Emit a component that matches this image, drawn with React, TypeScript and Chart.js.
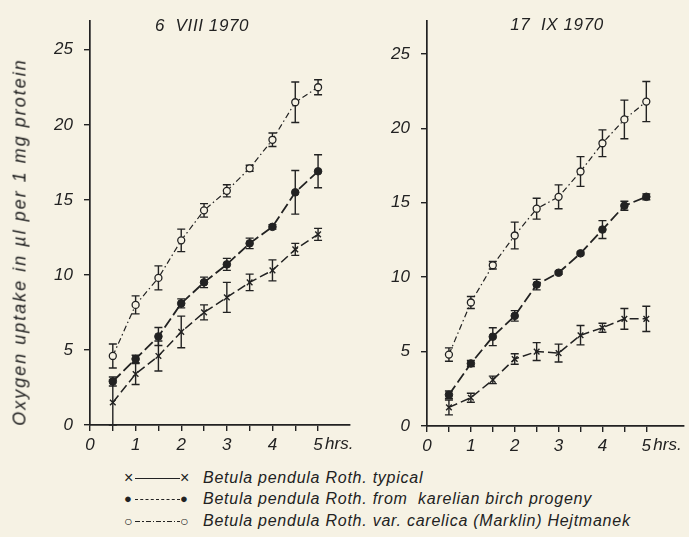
import React, { useEffect, useRef } from "react";
import { Chart, registerables } from "chart.js";

Chart.register(...registerables);

// ---- data ----
const hours = [0.5, 1, 1.5, 2, 2.5, 3, 3.5, 4, 4.5, 5];
const xTickValues = [0, 0.5, 1, 1.5, 2, 2.5, 3, 3.5, 4, 4.5, 5];
const xTickLabels = ["0", "", "1", "", "2", "", "3", "", "4", "", "5"];
const yTickValues = [0, 5, 10, 15, 20, 25];

const panelTitles = ["6  VIII 1970", "17  IX 1970"];
const seriesNames = [
  "Betula pendula Roth. typical",
  "Betula pendula Roth. from  karelian birch progeny",
  "Betula pendula Roth. var. carelica (Marklin) Hejtmanek",
];
const yAxisTitle = "Oxygen uptake in µl per 1 mg protein";
const xUnit = "hrs.";

// 6 VIII 1970
const augTypical = [1.5, 3.4, 4.6, 6.2, 7.5, 8.5, 9.5, 10.3, 11.7, 12.7];
const augTypicalErr = [1.5, 0.7, 1.0, 1.05, 0.5, 1.0, 0.55, 0.7, 0.4, 0.4];
const augKarelian = [2.9, 4.4, 5.9, 8.1, 9.5, 10.7, 12.1, 13.2, 15.5, 16.9];
const augKarelianErr = [0.3, 0.25, 0.6, 0.3, 0.35, 0.4, 0.35, 0.15, 1.45, 1.1];
const augCarelica = [4.6, 8.0, 9.8, 12.3, 14.3, 15.6, 17.1, 19.0, 21.5, 22.5];
const augCarelicaErr = [0.8, 0.6, 0.8, 0.75, 0.45, 0.4, 0.2, 0.45, 1.35, 0.5];

// 17 IX 1970
const sepTypical = [1.25, 1.9, 3.1, 4.5, 5.0, 4.9, 6.1, 6.6, 7.2, 7.2];
const sepTypicalErr = [0.5, 0.3, 0.25, 0.35, 0.6, 0.6, 0.65, 0.3, 0.7, 0.85];
const sepKarelian = [2.1, 4.2, 6.0, 7.4, 9.5, 10.3, 11.6, 13.2, 14.8, 15.4];
const sepKarelianErr = [0.25, 0.2, 0.6, 0.35, 0.35, 0.1, 0.1, 0.6, 0.3, 0.2];
const sepCarelica = [4.8, 8.3, 10.8, 12.8, 14.6, 15.4, 17.1, 19.0, 20.6, 21.8];
const sepCarelicaErr = [0.45, 0.4, 0.25, 0.9, 0.7, 0.8, 1.0, 0.9, 1.3, 1.35];

// ---- styling ----
const INK = "#222222";
const PAPER = "#f6f2e4";
const FONT = "'Liberation Sans', 'DejaVu Sans', sans-serif";

const errorBarPlugin = {
  id: "errorBars",
  beforeDatasetsDraw(chart: any) {
    const ctx = chart.ctx;
    const ys = chart.scales.y;
    chart.data.datasets.forEach((ds: any, i: number) => {
      const meta = chart.getDatasetMeta(i);
      const errs: number[] = ds.errors || [];
      ctx.save();
      ctx.strokeStyle = INK;
      ctx.lineWidth = 1.4;
      ctx.setLineDash([]);
      meta.data.forEach((pt: any, j: number) => {
        const v = ds.data[j].y;
        const e = errs[j] || 0;
        const top = ys.getPixelForValue(v + e);
        const bot = ys.getPixelForValue(Math.max(0, v - e));
        ctx.beginPath();
        ctx.moveTo(pt.x, top);
        ctx.lineTo(pt.x, bot);
        ctx.moveTo(pt.x - 4, top);
        ctx.lineTo(pt.x + 4, top);
        ctx.moveTo(pt.x - 4, bot);
        ctx.lineTo(pt.x + 4, bot);
        ctx.stroke();
      });
      ctx.restore();
    });
  },
};

const unitPlugin = {
  id: "unitLabel",
  afterDraw(chart: any) {
    const ctx = chart.ctx;
    const xs = chart.scales.x;
    const px = xs.getPixelForValue(5);
    ctx.save();
    ctx.fillStyle = INK;
    ctx.font = `italic 17px ${FONT}`;
    ctx.textAlign = "left";
    ctx.textBaseline = "middle";
    ctx.fillText(xUnit, px + 7, xs.top + 19);
    ctx.restore();
  },
};

type Panel = {
  typical: number[];
  typicalErr: number[];
  karelian: number[];
  karelianErr: number[];
  carelica: number[];
  carelicaErr: number[];
  width: number;
  yWidth: number;
  padTop: number;
  padRight: number;
  xHeight: number;
  xMax: number;
  yMax: number;
};

const toPts = (vals: number[]) => vals.map((v, i) => ({ x: hours[i], y: v }));

function makeConfig(p: Panel): any {
  return {
    type: "line",
    data: {
      datasets: [
        {
          label: seriesNames[0],
          data: toPts(p.typical),
          errors: p.typicalErr,
          borderColor: INK,
          borderWidth: 1.5,
          borderDash: [9, 4],
          pointStyle: "crossRot",
          pointRadius: 4,
          pointBorderWidth: 1.4,
          pointBorderColor: INK,
          pointBackgroundColor: INK,
          tension: 0,
        },
        {
          label: seriesNames[1],
          data: toPts(p.karelian),
          errors: p.karelianErr,
          borderColor: INK,
          borderWidth: 1.8,
          borderDash: [11, 4],
          pointStyle: "circle",
          pointRadius: 3.8,
          pointBorderWidth: 1,
          pointBorderColor: INK,
          pointBackgroundColor: INK,
          tension: 0,
        },
        {
          label: seriesNames[2],
          data: toPts(p.carelica),
          errors: p.carelicaErr,
          borderColor: INK,
          borderWidth: 1.2,
          borderDash: [6, 3, 1.5, 3],
          pointStyle: "circle",
          pointRadius: 3.5,
          pointBorderWidth: 1.3,
          pointBorderColor: INK,
          pointBackgroundColor: PAPER,
          tension: 0,
        },
      ],
    },
    options: {
      animation: false,
      responsive: false,
      maintainAspectRatio: false,
      layout: { padding: { top: p.padTop, right: p.padRight, left: 0, bottom: 0 } },
      plugins: { legend: { display: false }, tooltip: { enabled: false }, title: { display: false } },
      scales: {
        x: {
          type: "linear",
          min: 0,
          max: p.xMax,
          afterBuildTicks: (s: any) => {
            s.ticks = xTickValues.map((v) => ({ value: v }));
          },
          afterFit: (s: any) => {
            s.height = p.xHeight;
          },
          ticks: {
            autoSkip: false,
            maxRotation: 0,
            padding: 4,
            color: INK,
            font: { family: FONT, size: 17, style: "italic" },
            callback: (v: number) => {
              const idx = xTickValues.indexOf(v);
              return idx >= 0 ? xTickLabels[idx] : "";
            },
          },
          grid: { display: true, drawOnChartArea: false, drawTicks: true, tickLength: 6, color: INK, lineWidth: 1.4 },
          border: { display: true, color: INK, width: 1.7 },
        },
        y: {
          type: "linear",
          min: 0,
          max: p.yMax,
          afterBuildTicks: (s: any) => {
            s.ticks = yTickValues.map((v) => ({ value: v }));
          },
          afterFit: (s: any) => {
            s.width = p.yWidth;
          },
          ticks: {
            padding: 11,
            color: INK,
            font: { family: FONT, size: 17, style: "italic" },
          },
          grid: { display: true, drawOnChartArea: false, drawTicks: true, tickLength: 6, color: INK, lineWidth: 1.4 },
          border: { display: true, color: INK, width: 1.7 },
        },
      },
    },
    plugins: [errorBarPlugin, unitPlugin],
  };
}

const leftPanel: Panel = {
  typical: augTypical,
  typicalErr: augTypicalErr,
  karelian: augKarelian,
  karelianErr: augKarelianErr,
  carelica: augCarelica,
  carelicaErr: augCarelicaErr,
  width: 360,
  yWidth: 90,
  padTop: 15,
  padRight: 10,
  xHeight: 35,
  xMax: 5.7,
  yMax: 26.9,
};

const rightPanel: Panel = {
  typical: sepTypical,
  typicalErr: sepTypicalErr,
  karelian: sepKarelian,
  karelianErr: sepKarelianErr,
  carelica: sepCarelica,
  carelicaErr: sepCarelicaErr,
  width: 349,
  yWidth: 87,
  padTop: 12,
  padRight: 0,
  xHeight: 34,
  xMax: 5.85,
  yMax: 27.2,
};

function PanelChart({ panel, left }: { panel: Panel; left: number }) {
  const ref = useRef<HTMLCanvasElement | null>(null);
  useEffect(() => {
    if (!ref.current) return;
    const chart = new Chart(ref.current, makeConfig(panel));
    return () => chart.destroy();
  }, [panel]);
  return (
    <canvas
      ref={ref}
      width={panel.width}
      height={460}
      style={{ position: "absolute", left, top: 0, width: panel.width, height: 460 }}
    />
  );
}

const textStyle: React.CSSProperties = {
  position: "absolute",
  color: INK,
  fontFamily: FONT,
  fontStyle: "italic",
  whiteSpace: "pre",
};

function LegendRow({ idx, top }: { idx: number; top: number }) {
  const lineStyles: React.CSSProperties[] = [
    { borderTop: `1.6px solid ${INK}` },
    { borderTop: `1.8px dashed ${INK}` },
    {
      height: 1.4,
      backgroundImage: `repeating-linear-gradient(to right, ${INK} 0 5px, transparent 5px 7px, ${INK} 7px 8.5px, transparent 8.5px 10.5px)`,
    },
  ];
  const marks = ["×", "●", "○"];
  const markSize = [16, 13, 14];
  return (
    <div style={{ position: "absolute", left: 124, top, height: 20, width: 560 }}>
      <span style={{ ...textStyle, left: 0, top: 0, fontStyle: "normal", fontSize: markSize[idx], lineHeight: "20px" }}>
        {marks[idx]}
      </span>
      <div style={{ position: "absolute", left: 11, top: 10, width: 45, ...lineStyles[idx] }} />
      <span style={{ ...textStyle, left: 56, top: 0, fontStyle: "normal", fontSize: markSize[idx], lineHeight: "20px" }}>
        {marks[idx]}
      </span>
      <span style={{ ...textStyle, left: 79, top: 0, fontSize: 16, letterSpacing: "0.75px", lineHeight: "20px" }}>
        {seriesNames[idx]}
      </span>
    </div>
  );
}

export default function App() {
  useEffect(() => {
    document.body.style.margin = "0";
    document.body.style.background = PAPER;
  }, []);
  return (
    <div style={{ position: "relative", width: 689, height: 537, background: PAPER, overflow: "hidden" }}>
      <PanelChart panel={leftPanel} left={0} />
      <PanelChart panel={rightPanel} left={340} />
      <div
        style={{ ...textStyle, left: 202, top: 26, transform: "translate(-50%, -50%)", fontSize: 17, letterSpacing: "0.6px" }}
      >
        {panelTitles[0]}
      </div>
      <div
        style={{ ...textStyle, left: 557, top: 25, transform: "translate(-50%, -50%)", fontSize: 17, letterSpacing: "0.6px" }}
      >
        {panelTitles[1]}
      </div>
      <div
        style={{
          ...textStyle,
          left: 20,
          top: 242,
          transform: "translate(-50%, -50%) rotate(-90deg)",
          fontSize: 18,
          letterSpacing: "2px",
        }}
      >
        {yAxisTitle}
      </div>
      <LegendRow idx={0} top={468} />
      <LegendRow idx={1} top={489} />
      <LegendRow idx={2} top={511} />
    </div>
  );
}
